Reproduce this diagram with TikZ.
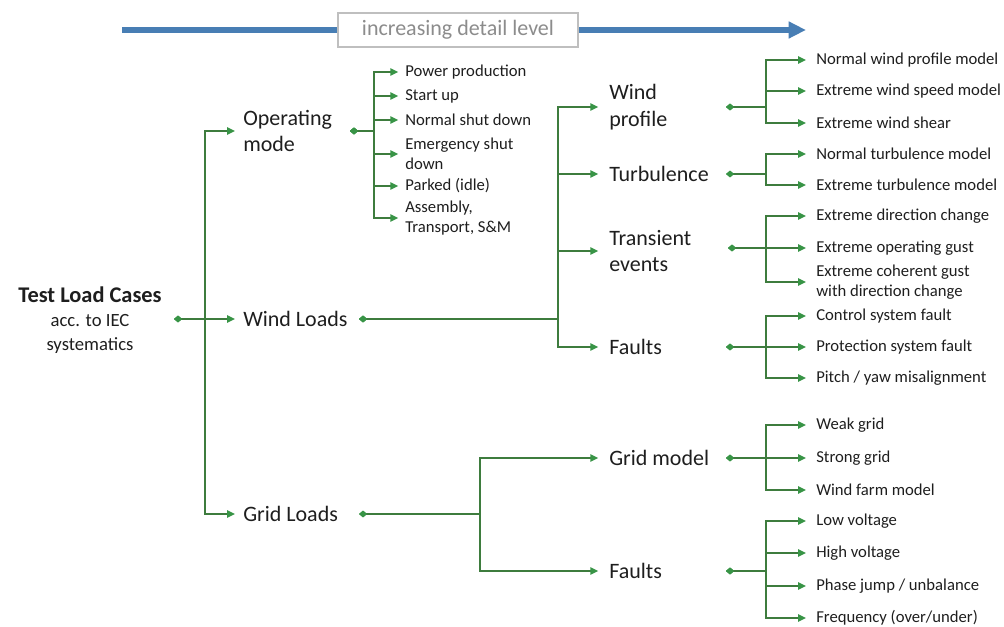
\documentclass[tikz,border=0pt]{standalone}
\usepackage{fontspec}
\setmainfont{Carlito}
\usetikzlibrary{arrows.meta}
\definecolor{lg}{RGB}{62,124,62}
\definecolor{tipg}{RGB}{56,148,70}
\definecolor{barblue}{RGB}{72,126,180}
\definecolor{txt}{RGB}{30,30,30}
\tikzset{
  link/.style={draw=lg, line width=1.3pt,
    {Diamond[fill=tipg,color=tipg,length=6pt,width=5pt]}-{Triangle[fill=tipg,color=tipg,length=6pt,width=5.5pt]},
    shorten >=5.5pt},
  leaf/.style={anchor=west, inner sep=0pt, font=\fontsize{12.5}{15}\selectfont, align=left, text=txt},
  mid/.style={anchor=west, inner sep=0pt, font=\fontsize{16.5}{20}\selectfont, align=left, text=txt},
}
\begin{document}
\begin{tikzpicture}[x=0.75pt,y=-0.75pt]
\useasboundingbox (0,0) rectangle (1004,627);
% detail arrow
\coordinate (bs) at (122,30);
\coordinate (be) at (806,30);
\draw[barblue, line width=4pt, -{Triangle[length=13pt,width=12pt]}] (bs) -- (be);
\node[draw=black!25, fill=white, line width=0.8pt, minimum width=180pt, minimum height=25.5pt,
  font=\fontsize{16.5}{18}\selectfont, text=black!45] (detail) at (458,30) {increasing detail level};

% root
\node[align=center, inner sep=0pt, text=txt, font=\fontsize{14}{18}\selectfont] (root) at (90,320)
  {{\fontsize{16.8}{18}\bfseries\selectfont Test Load Cases}\\
   acc. to IEC\\
   systematics};

% level 1
\node[mid] (om) at (243,131) {Operating\\mode};
\node[mid] (wl) at (243,319) {Wind Loads};
\node[mid] (gl) at (243,514) {Grid Loads};

% level 2
\node[mid] (wp) at (609,107) {Wind\\profile};
\node[mid] (tu) at (609,174) {Turbulence};
\node[mid] (te) at (609,251) {Transient\\events};
\node[mid] (wf) at (609,347) {Faults};
\node[mid] (gm) at (609,458) {Grid model};
\node[mid] (gf) at (609,571) {Faults};

% operating mode leaves
\node[leaf] (pp) at (405,72) {Power production};
\node[leaf] (su) at (405,96) {Start up};
\node[leaf] (ns) at (405,120) {Normal shut down};
\node[leaf] (es) at (405,154) {Emergency shut\\down};
\node[leaf] (pk) at (405,186) {Parked (idle)};
\node[leaf] (as) at (405,218) {Assembly,\\Transport, S\&M};

% wind profile leaves
\node[leaf] (wp1) at (816,60) {Normal wind profile model};
\node[leaf] (wp2) at (816,91) {Extreme wind speed model};
\node[leaf] (wp3) at (816,123) {Extreme wind shear};
% turbulence leaves
\node[leaf] (tu1) at (816,154) {Normal turbulence model};
\node[leaf] (tu2) at (816,185) {Extreme turbulence model};
% transient leaves
\node[leaf] (te1) at (816,216) {Extreme direction change};
\node[leaf] (te2) at (816,248) {Extreme operating gust};
\node[leaf] (te3) at (816,282) {Extreme coherent gust\\with direction change};
% wind faults leaves
\node[leaf] (wf1) at (816,316) {Control system fault};
\node[leaf] (wf2) at (816,347) {Protection system fault};
\node[leaf] (wf3) at (816,378) {Pitch / yaw misalignment};
% grid model leaves
\node[leaf] (gm1) at (816,425) {Weak grid};
\node[leaf] (gm2) at (816,458) {Strong grid};
\node[leaf] (gm3) at (816,490) {Wind farm model};
% grid fault leaves
\node[leaf] (gf1) at (816,521) {Low voltage};
\node[leaf] (gf2) at (816,553) {High voltage};
\node[leaf] (gf3) at (816,586) {Phase jump / unbalance};
\node[leaf] (gf4) at (816,618) {Frequency (over/under)};

% connector coordinates
\coordinate (rd) at (174,319);  \coordinate (rt) at (205,319);
\coordinate (omd) at (350,131); \coordinate (omt) at (374,131);
\coordinate (wld) at (359,319); \coordinate (wlt) at (558,319);
\coordinate (gld) at (359,514); \coordinate (glt) at (480,514);
\coordinate (wpd) at (726,107); \coordinate (wpt) at (766,107);
\coordinate (tud) at (726,174); \coordinate (tut) at (766,174);
\coordinate (ted) at (728,248); \coordinate (tet) at (766,248);
\coordinate (wfd) at (726,347); \coordinate (wft) at (766,347);
\coordinate (gmd) at (726,458); \coordinate (gmt) at (766,458);
\coordinate (gfd) at (726,571); \coordinate (gft) at (766,571);

% root connectors
\foreach \c in {om,wl,gl} \draw[link, shorten >=6pt] (rd) -- (rt) |- (\c.west);
% level 1 connectors
\foreach \c in {pp,su,ns,es,pk,as} \draw[link, shorten >=5pt] (omd) -- (omt) |- (\c.west);
\foreach \c in {wp,tu,te,wf} \draw[link, shorten >=8pt] (wld) -- (wlt) |- (\c.west);
\foreach \c in {gm,gf} \draw[link, shorten >=8pt] (gld) -- (glt) |- (\c.west);
% level 2 connectors
\foreach \c in {wp1,wp2,wp3} \draw[link, shorten >=7.5pt] (wpd) -- (wpt) |- (\c.west);
\foreach \c in {tu1,tu2} \draw[link, shorten >=7.5pt] (tud) -- (tut) |- (\c.west);
\foreach \c in {te1,te2,te3} \draw[link, shorten >=7.5pt] (ted) -- (tet) |- (\c.west);
\foreach \c in {wf1,wf2,wf3} \draw[link, shorten >=7.5pt] (wfd) -- (wft) |- (\c.west);
\foreach \c in {gm1,gm2,gm3} \draw[link, shorten >=7.5pt] (gmd) -- (gmt) |- (\c.west);
\foreach \c in {gf1,gf2,gf3,gf4} \draw[link, shorten >=7.5pt] (gfd) -- (gft) |- (\c.west);
\end{tikzpicture}
\end{document}
